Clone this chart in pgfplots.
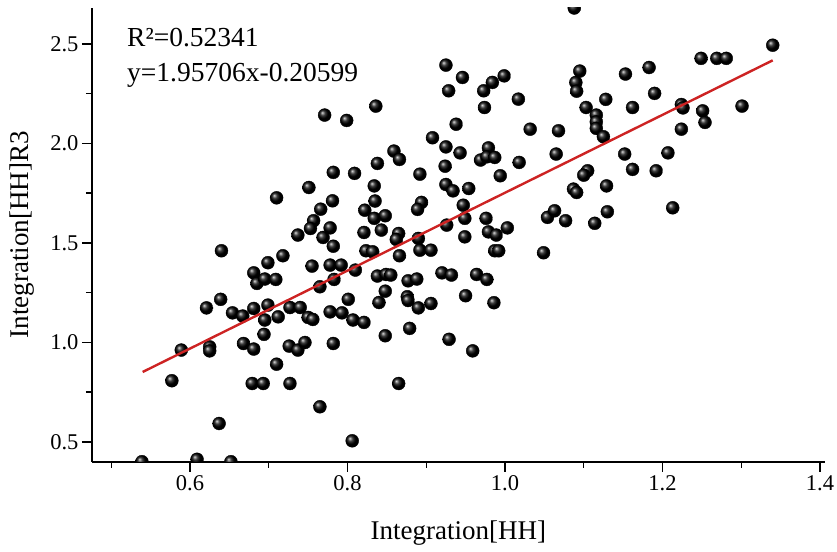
\documentclass[border=0pt]{standalone}
\usepackage{fontspec}
\setmainfont{Liberation Serif}
\usepackage{pgfplots}
\pgfplotsset{compat=1.18}
\definecolor{fitred}{RGB}{205,35,35}
\begin{document}
\begin{tikzpicture}
\path[use as bounding box] (-92bp,-90.3bp) rectangle (745bp,461.7bp);
\begin{axis}[
  scale only axis, width=732.7bp, height=453.7bp,
  xmin=0.4756, xmax=1.406, ymin=0.4, ymax=2.68,
  clip marker paths=true,
  axis x line*=bottom, axis y line*=left,
  axis line style={line width=1.8bp, black},
  xtick={0.6,0.8,1.0,1.2,1.4}, xticklabels={0.6,0.8,1.0,1.2,1.4},
  minor xtick={0.5,0.7,0.9,1.1,1.3},
  ytick={0.5,1.0,1.5,2.0,2.5}, yticklabels={0.5,1.0,1.5,2.0,2.5},
  minor ytick={0.75,1.25,1.75,2.25},
  tick align=outside, major tick length=10bp, minor tick length=6bp,
  tick style={line width=1.4bp, black},
  /pgf/number format/assume math mode=true,
  tick label style={font=\fontsize{22.5bp}{25bp}\selectfont},
  label style={font=\fontsize{27bp}{30bp}\selectfont},
  xlabel={Integration[HH]},
  ylabel={Integration[HH]R3},
  xlabel style={at={(axis description cs:0.5,-0.158)}, anchor=center},
  ylabel style={at={(axis description cs:-0.0955,0.5)}, anchor=center},
]
\addplot[only marks, mark=ball, mark size=6.5pt, mark options={ball color=black}] table {
x y
0.771 2.142
0.799 2.115
0.782 1.854
0.809 1.849
0.751 1.778
0.710 1.726
0.781 1.711
0.766 1.669
0.757 1.611
0.753 1.572
0.778 1.575
1.088 2.680
0.925 2.393
0.946 2.331
0.9285 2.264
0.973 2.264
0.984 2.306
0.999 2.339
1.017 2.222
0.974 2.180
0.836 2.187
1.095 2.363
1.090 2.306
1.091 2.262
1.103 2.180
1.116 2.142
1.116 2.108
1.116 2.075
0.938 2.096
1.032 2.071
1.068 2.063
0.908 2.028
0.925 1.982
0.943 1.952
0.859 1.961
0.866 1.919
0.979 1.977
0.969 1.916
0.977 1.932
0.987 1.929
1.018 1.904
1.065 1.946
0.838 1.899
0.892 1.845
0.924 1.885
0.994 1.837
1.105 1.862
1.100 1.840
0.834 1.786
0.925 1.793
0.934 1.761
0.954 1.773
1.087 1.770
1.091 1.753
0.835 1.710
0.822 1.664
0.834 1.623
0.848 1.636
0.894 1.703
0.889 1.668
0.947 1.689
0.949 1.623
0.976 1.623
0.926 1.589
0.821 1.552
0.843 1.564
0.865 1.547
0.890 1.522
0.949 1.530
0.979 1.555
0.989 1.539
1.003 1.575
1.054 1.628
1.063 1.661
1.077 1.611
1.114 1.598
1.340 2.493
1.249 2.427
1.269 2.427
1.281 2.427
1.183 2.381
1.153 2.348
1.190 2.251
1.128 2.221
1.162 2.180
1.224 2.195
1.226 2.178
1.301 2.187
1.251 2.163
1.254 2.105
1.224 2.071
1.125 2.033
1.152 1.946
1.207 1.952
1.162 1.869
1.192 1.862
1.129 1.786
1.130 1.656
1.213 1.676
0.640 1.460
0.737 1.539
0.769 1.527
0.782 1.483
0.718 1.435
0.699 1.400
0.755 1.383
0.778 1.388
0.792 1.388
0.681 1.349
0.685 1.296
0.695 1.318
0.709 1.316
0.810 1.363
0.783 1.316
0.765 1.279
0.639 1.216
0.621 1.173
0.654 1.148
0.667 1.132
0.681 1.170
0.699 1.187
0.695 1.112
0.712 1.128
0.727 1.175
0.740 1.175
0.750 1.125
0.756 1.115
0.778 1.153
0.793 1.148
0.807 1.112
0.801 1.216
0.694 1.040
0.668 0.994
0.681 0.966
0.589 0.961
0.625 0.977
0.625 0.957
0.726 0.981
0.737 0.961
0.746 0.999
0.782 0.994
0.710 0.890
0.577 0.807
0.679 0.793
0.693 0.793
0.727 0.793
0.765 0.676
0.637 0.592
0.806 0.505
0.539 0.400
0.609 0.412
0.652 0.400
0.862 1.517
0.8235 1.460
0.832 1.455
0.866 1.435
0.892 1.463
0.906 1.463
0.987 1.460
0.992 1.460
1.049 1.450
0.838 1.333
0.849 1.341
0.855 1.338
0.877 1.309
0.888 1.318
0.920 1.349
0.932 1.338
0.964 1.341
0.977 1.316
0.848 1.257
0.840 1.200
0.876 1.229
0.877 1.210
0.890 1.173
0.906 1.195
0.950 1.234
0.986 1.199
0.821 1.100
0.848 1.033
0.879 1.070
0.929 1.015
0.959 0.957
0.865 0.793
};
\addplot[fitred, line width=2.4bp] coordinates {(0.54,0.851) (1.34,2.417)};
\node[anchor=base west, font=\fontsize{27.5bp}{30bp}\selectfont, inner sep=0pt] at (rel axis cs:0.0478,0.9147) {R²=0.52341};
\node[anchor=base west, font=\fontsize{27.5bp}{30bp}\selectfont, inner sep=0pt] at (rel axis cs:0.0478,0.8376) {y=1.95706x-0.20599};
\end{axis}
\end{tikzpicture}
\end{document}
